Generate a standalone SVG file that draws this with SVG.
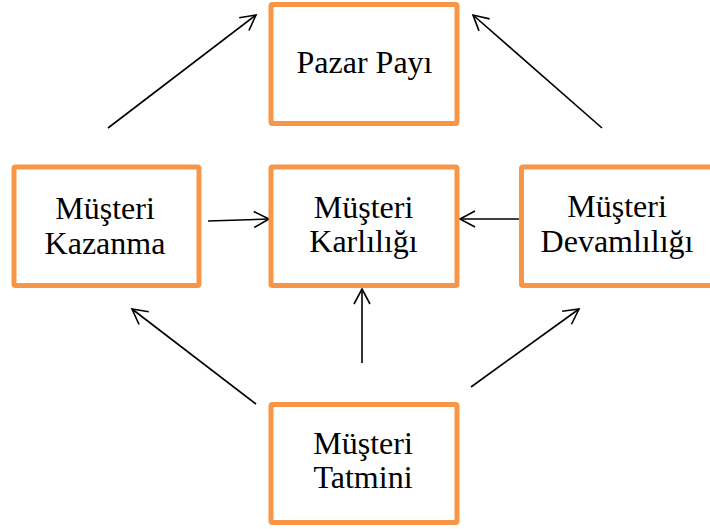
<svg xmlns="http://www.w3.org/2000/svg" width="710" height="529" viewBox="0 0 710 529">
  <style>
    .box { fill: #ffffff; stroke: #F79646; stroke-width: 5; }
    .lbl { font-size: 32px; fill: #000000; text-anchor: middle; }
    .edge { stroke: #000000; stroke-width: 1.6; fill: none; marker-end: url(#open); }
  </style>
  <defs>
    <marker id="open" viewBox="0 0 18 18" refX="16" refY="9" markerWidth="18" markerHeight="18" markerUnits="userSpaceOnUse" orient="auto">
      <path d="M1,1 L16,9 L1,17" fill="none" stroke="#000000" stroke-width="1.6"/>
    </marker>
  </defs>
  <rect width="710" height="529" fill="#ffffff"/>

  <g id="connectors">
    <line class="edge" x1="108" y1="128" x2="256" y2="15"/>
    <line class="edge" x1="602" y1="128" x2="473" y2="15"/>
    <line class="edge" x1="208" y1="221" x2="269" y2="219"/>
    <line class="edge" x1="520" y1="219" x2="460" y2="219"/>
    <line class="edge" x1="256" y1="404" x2="132" y2="309"/>
    <line class="edge" x1="362" y1="363" x2="362" y2="289"/>
    <line class="edge" x1="471" y1="387" x2="579" y2="309"/>
  </g>

  <g font-family="Liberation Serif, Times New Roman, serif">
    <g id="pazar-payi">
      <rect class="box" x="271" y="4.5" width="186" height="119" rx="1.5"/>
      <text class="lbl" x="364.5" y="73">Pazar Payı</text>
    </g>

    <g id="musteri-kazanma">
      <rect class="box" x="14" y="167" width="185" height="118.5" rx="1.5"/>
      <text class="lbl" x="105" y="219">Müşteri</text>
      <text class="lbl" x="105" y="254">Kazanma</text>
    </g>

    <g id="musteri-karliligi">
      <rect class="box" x="271" y="167" width="186" height="118.5" rx="1.5"/>
      <text class="lbl" x="363.5" y="218">Müşteri</text>
      <text class="lbl" x="363.5" y="252">Karlılığı</text>
    </g>

    <g id="musteri-devamliligi">
      <rect class="box" x="521.5" y="167" width="192" height="118.5" rx="1.5"/>
      <text class="lbl" x="617" y="217">Müşteri</text>
      <text class="lbl" x="617" y="252">Devamlılığı</text>
    </g>

    <g id="musteri-tatmini">
      <rect class="box" x="271" y="404.5" width="186" height="118" rx="1.5"/>
      <text class="lbl" x="363" y="454">Müşteri</text>
      <text class="lbl" x="363" y="488">Tatmini</text>
    </g>
  </g>
</svg>
